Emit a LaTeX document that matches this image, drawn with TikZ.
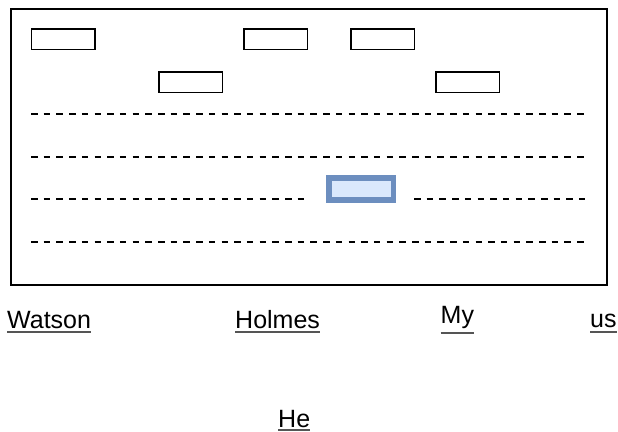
\documentclass[tikz,border=0pt]{standalone}
\usepackage{fontspec}
\setmainfont{Liberation Sans}
\definecolor{hlstroke}{HTML}{6C8EBF}
\definecolor{hlfill}{HTML}{DAE8FC}
\definecolor{ulgray}{HTML}{555555}
\begin{document}
\begin{tikzpicture}[x=1pt,y=-1pt,
  smallbox/.style={draw=black,line width=1.5pt,minimum width=63.5pt,minimum height=20.5pt,inner sep=0pt,fill=white},
  hlbox/.style={draw=hlstroke,fill=hlfill,line width=5.5pt,minimum width=64.5pt,minimum height=22pt,inner sep=0pt},
  dashline/.style={line width=2pt,dash pattern=on 6.5pt off 6.2pt},
  lbl/.style={inner sep=0pt,anchor=base west,font=\fontsize{25}{29}\selectfont},
  uline/.style={draw=ulgray,line width=1.4pt}]
\useasboundingbox (0,0) rectangle (618,431);
% frame
\node[draw=black,line width=2pt,minimum width=596.5pt,minimum height=276.5pt,inner sep=0pt,anchor=north west] (frame) at (9.5,7.5) {};
% boxes
\node[smallbox] (b1) at (63.2,39.4) {};
\node[smallbox] (b2) at (275.5,39.4) {};
\node[smallbox] (b3) at (382.5,39.4) {};
\node[smallbox] (b4) at (190.5,82) {};
\node[smallbox] (b5) at (467.5,82) {};
% dashed lines
\coordinate (l1a) at (31,114);  \coordinate (l1b) at (585,114);
\coordinate (l2a) at (31,157);  \coordinate (l2b) at (585,157);
\coordinate (l3a) at (31,199);  \coordinate (l3b) at (307,199);
\coordinate (l3c) at (414,199);  \coordinate (l3d) at (585,199);
\coordinate (l4a) at (31,242);  \coordinate (l4b) at (585,242);
\draw[dashline] (l1a) -- (l1b);
\draw[dashline] (l2a) -- (l2b);
\draw[dashline] (l3a) -- (l3b);
\draw[dashline] (l3c) -- (l3d);
\draw[dashline] (l4a) -- (l4b);
\node[hlbox] (hl) at (361.3,189) {};
% labels
\node[lbl] (watson) at (7,328) {Watson};
\node[lbl] (holmes) at (235,328) {Holmes};
\node[lbl] (my) at (440.5,323) {My};
\node[lbl] (us) at (590,327) {us};
\node[lbl] (he) at (278,427) {He};
\draw[uline] ([yshift=-4pt]watson.base west) -- ([yshift=-4pt]watson.base east);
\draw[uline] ([yshift=-4pt]holmes.base west) -- ([yshift=-4pt]holmes.base east);
\draw[uline] ([yshift=-10pt]my.base west) -- ([yshift=-10pt]my.base east);
\draw[uline] ([yshift=-5pt]us.base west) -- ([yshift=-5pt]us.base east);
\draw[uline] ([yshift=-3pt]he.base west) -- ([yshift=-3pt]he.base east);
\end{tikzpicture}
\end{document}
